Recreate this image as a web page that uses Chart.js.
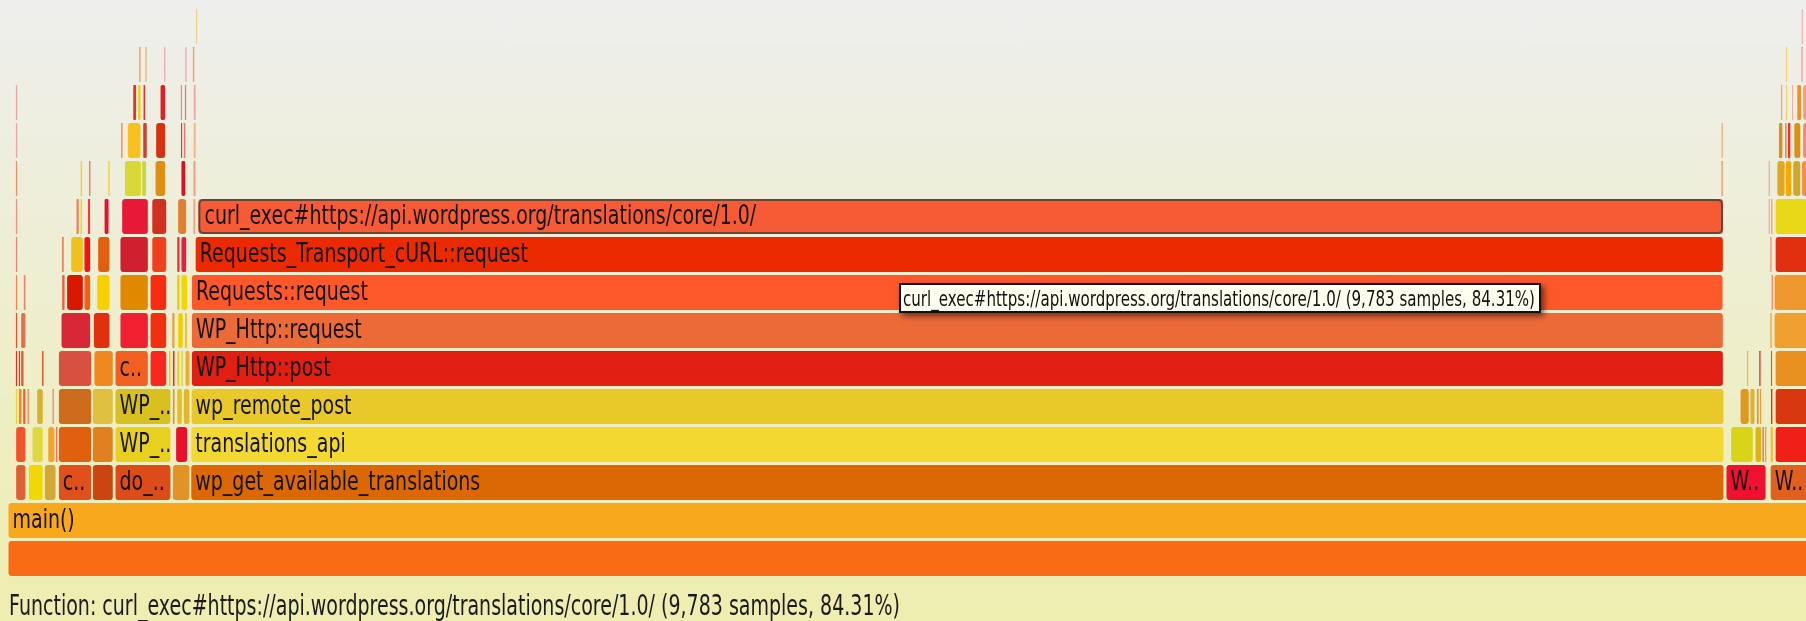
<!DOCTYPE html>
<html><head><meta charset="utf-8">
<script src="https://cdn.jsdelivr.net/npm/chart.js@4/dist/chart.umd.min.js"></script>
<style>
html,body{margin:0;padding:0;width:1806px;height:621px;overflow:hidden;background:linear-gradient(#eeeeee,#eeeeb0);}
canvas{display:block}
</style></head><body>
<canvas id="c" width="1806" height="621"></canvas>
<script>
// ---- data: each frame = [startSample, endSample, functionName], one array per stack depth ----
const TOTAL_SAMPLES = 11604;
const HOVERED = 'curl_exec#https://api.wordpress.org/translations/core/1.0/';

const L0 = [[0,11604,'']];
const L1 = [[0,11604,'main()']];
const L2 = [[49,115,''],[130,226,''],[233,308,''],[323,537,'c..'],[541,675,''],[686,1045,'do_..'],[1054,1167,''],
  [1172,11004,'wp_get_available_translations'],[11017,11274,'W..'],[11300,11604,'W..']];
const L3 = [[49,115,''],[154,226,''],[255,301,''],[306,320,''],[323,537,''],[541,675,''],[686,1045,'WP_..'],[1075,1152,''],
  [1172,11004,'translations_api'],[11047,11192,''],[11203,11246,''],[11248,11262,''],[11264,11279,''],[11300,11321,''],[11332,11604,'']];
const L4 = [[47,62,''],[66,90,''],[94,115,''],[122,138,''],[184,226,''],[282,298,''],[323,537,''],[541,675,''],[686,1045,'WP_..'],
  [1054,1071,''],[1082,1118,''],[1124,1167,''],[1174,11004,'wp_remote_post'],[11107,11166,''],[11171,11203,''],[11212,11229,''],
  [11231,11246,''],[11302,11318,''],[11332,11604,'']];
const L5 = [[47,62,''],[66,81,''],[81,103,''],[214,231,''],[323,537,''],[551,675,''],[686,900,'c..'],[911,1018,''],[1030,1045,''],
  [1054,1071,''],[1082,1103,''],[1109,1124,''],[1135,1167,''],[1176,11000,'WP_Http::post'],[11148,11163,''],[11227,11242,''],
  [11302,11316,''],[11332,11604,'']];
const L6 = [[47,62,''],[81,115,''],[340,530,''],[547,654,''],[718,900,''],[911,1018,''],[1050,1071,''],[1088,1124,''],[1131,1152,''],
  [1176,11000,'WP_Http::request'],[11298,11314,''],[11325,11604,'']];
const L7 = [[47,62,''],[98,115,''],[344,366,''],[376,483,''],[487,530,''],[569,654,''],[718,900,''],[911,1018,''],[1082,1103,''],
  [1109,1152,''],[1176,10998,'Requests::request'],[11306,11321,''],[11325,11604,'']];
const L8 = [[47,62,''],[344,360,''],[402,483,''],[487,530,''],[575,654,''],[718,900,''],[922,1018,''],[1082,1103,''],[1109,1146,''],
  [1200,11000,'Requests_Transport_cURL::request'],[11298,11312,''],[11332,11604,'']];
const L9 = [[47,62,''],[436,457,''],[462,479,''],[509,530,''],[616,648,''],[729,900,''],[922,1018,''],[1088,1146,''],[1186,1204,''],
  [1218,11001,HOVERED],[11287,11301,''],[11304,11318,''],[11332,11604,'']];
const L10 = [[47,62,''],[462,479,''],[516,532,''],[640,655,''],[746,857,''],[857,889,''],[943,1011,''],[1109,1140,''],[1186,1206,''],
  [10984,11000,''],[11287,11301,''],[11343,11396,''],[11396,11439,''],[11445,11497,''],[11501,11604,'']];
const L11 = [[47,62,''],[722,738,''],[765,853,''],[864,893,''],[947,1011,''],[1106,1120,''],[1124,1140,''],[1188,1206,''],
  [10985,11000,''],[11353,11382,''],[11394,11408,''],[11411,11433,''],[11452,11497,''],[11508,11604,'']];
const L12 = [[47,62,''],[800,825,''],[832,853,''],[866,883,''],[975,1011,''],[1105,1119,''],[1131,1146,''],[1188,1206,''],
  [11366,11381,''],[11398,11412,''],[11437,11451,''],[11471,11501,''],[11508,11604,'']];
const L13 = [[838,853,''],[877,893,''],[998,1012,''],[1134,1148,''],[1182,1198,''],[11398,11411,''],[11497,11512,'']];
const L14 = [[1202,1216,''],[11499,11513,'']];

// ---- styles: fill colour of every frame, same order as the data arrays ----
const C0 = ['#f96b15'];
const C1 = ['#f7a81d'];
const C2 = ['#dc6034','#f0d808','#d4a838','#e0501c','#cc4410','#dc4c18','#e09428','#dc6705','#f01030','#e06020'];
const C3 = ['#f05428','#e0d840','#f0a428','#f05050','#e06010','#e08020','#e8d020','#e8102c','#f2d831','#d8d418','#e0b410','#f05040','#f09070','#f0c030','#f02018'];
const C4 = ['#f0d040','#f08c20','#f06030','#f09060','#d8b030','#f09090','#cc6c1c','#e0c040','#d8c020','#e09030','#e8c020','#e0b830','#e9c829','#e09820','#e0b030','#e09030','#e0a040','#d04020','#d83810'];
const C5 = ['#e83020','#e83020','#f05a30','#e06030','#d85040','#f08820','#f06020','#f82820','#f0c020','#e83020','#f0d020','#f0c828','#e8b030','#e01e12','#f0c020','#e83030','#e85030','#e89020'];
const C6 = ['#e85030','#e07050','#d82838','#e03010','#f02030','#f03010','#e8a040','#f0d000','#f0c040','#ec6a38','#e8b040','#f0a030'];
const C7 = ['#f08050','#f08070','#f06040','#d81800','#f06010','#f8d000','#e08800','#f82c10','#f0c800','#f0d800','#fd582a','#f08080','#f09830'];
const C8 = ['#f08070','#f07040','#f0c020','#f81010','#e06010','#d02030','#f04020','#e83030','#e82040','#ec2a02','#f08080','#e03010'];
const C9 = ['#f09080','#f08060','#f0d020','#e84040','#e81030','#e81838','#d03020','#e08030','#f0a080','#f65b35','#f0a0a0','#f09080','#e8d818'];
const C10 = ['#f09060','#f0d040','#f08070','#f0d040','#d8d838','#c8d840','#e09010','#e01020','#f0a080','#f0a070','#f0a0a0','#e0a820','#f8a800','#d0a828','#f09050'];
const C11 = ['#f0a0a0','#f09060','#f8c020','#d04030','#d83010','#e83030','#f07060','#f0b080','#f0b080','#d89020','#f06030','#f03020','#e09010','#f09060'];
const C12 = ['#f0a0a0','#e83020','#f0d000','#e03030','#e02020','#f08080','#f07070','#f0a0a0','#f0a0a0','#f0d060','#f0b0a0','#f09020','#f0a080'];
const C13 = ['#f0a040','#e8c080','#f0a0a0','#f0a0a0','#f0a060','#f0d060','#f0a0a0'];
const C14 = ['#f0d080','#f0b0b0'];

const LEVELS = [L0,L1,L2,L3,L4,L5,L6,L7,L8,L9,L10,L11,L12,L13,L14];
const COLORS = [C0,C1,C2,C3,C4,C5,C6,C7,C8,C9,C10,C11,C12,C13,C14];

const frames = [], fills = [];
LEVELS.forEach((lv, d) => lv.forEach((f, i) => {
  frames.push({x: [f[0], f[1]], y: d, name: f[2]});
  fills.push(COLORS[d][i]);
}));
const hoverIndex = frames.findIndex(f => f.name === HOVERED);
const hoverFrame = frames[hoverIndex];
const hoverSamples = hoverFrame.x[1] - hoverFrame.x[0];
const infoText = HOVERED + ' (' + hoverSamples.toLocaleString('en-US') + ' samples, ' +
  (hoverSamples / TOTAL_SAMPLES * 100).toFixed(2) + '%)';

function scaledText(ctx, text, x, y, px, targetW, weight) {
  ctx.font = (weight || '') + ' ' + px + 'px "DejaVu Sans"';
  const sx = targetW / ctx.measureText(text).width;
  ctx.save(); ctx.translate(x, y); ctx.scale(sx, 1); ctx.fillText(text, 0, 0); ctx.restore();
}

const flamePlugin = {
  id: 'flame',
  afterDatasetsDraw(chart) {
    const ctx = chart.ctx, meta = chart.getDatasetMeta(0), a = chart.chartArea;
    ctx.save();
    ctx.beginPath(); ctx.rect(a.left, a.top, a.right - a.left, a.bottom - a.top); ctx.clip();
    // outline of the hovered frame
    const he = meta.data[hoverIndex].getProps(['x','y','base','height'], true);
    const hl = Math.min(he.x, he.base) + 0.5, hr = Math.max(he.x, he.base) - 0.5;
    ctx.strokeStyle = '#6b4334'; ctx.lineWidth = 2;
    ctx.beginPath(); ctx.roundRect(hl + 1, he.y - he.height / 2 + 2, hr - hl - 2, he.height - 4, 4); ctx.stroke();
    // labels
    ctx.font = '26px "DejaVu Sans"';
    const sx = 172 / ctx.measureText('Requests::request').width;
    ctx.fillStyle = '#141414'; ctx.textBaseline = 'alphabetic'; ctx.textAlign = 'left';
    meta.data.forEach((el, i) => {
      const name = frames[i].name; if (!name) return;
      const p = el.getProps(['x','y','base'], true);
      const left = Math.min(p.x, p.base), right = Math.max(p.x, p.base);
      const w = ctx.measureText(name).width * sx;
      if (w > right - left) return;
      const off = i === hoverIndex ? 6.5 : 4.5;
      ctx.save(); ctx.translate(left + off, p.y + 7.5); ctx.scale(sx, 1); ctx.fillText(name, 0, 0); ctx.restore();
    });
    ctx.restore();
  },
  afterDraw(chart) {
    const ctx = chart.ctx;
    // hover info box
    const bx = 899, by = 283, bw = 642, bh = 30;
    ctx.save();
    ctx.shadowColor = 'rgba(0,0,0,0.55)'; ctx.shadowBlur = 6; ctx.shadowOffsetX = 3; ctx.shadowOffsetY = 3;
    ctx.fillStyle = '#111'; ctx.fillRect(bx, by, bw, bh);
    ctx.restore();
    ctx.save();
    ctx.fillStyle = '#fffff0'; ctx.fillRect(bx + 2, by + 2, bw - 4, bh - 4);
    ctx.fillStyle = '#111'; ctx.textBaseline = 'alphabetic';
    scaledText(ctx, infoText, bx + 4, by + 22.5, 21, 632);
    // status line
    ctx.fillStyle = '#1a1a1a';
    scaledText(ctx, 'Function: ' + infoText, 9, 615, 27.5, 891);
    ctx.restore();
  }
};

new Chart(document.getElementById('c'), {
  type: 'bar',
  data: { datasets: [{
    data: frames,
    backgroundColor: fills,
    borderColor: 'rgba(0,0,0,0)',
    borderWidth: {left: 0.5, right: 0.5, top: 1, bottom: 1},
    borderSkipped: false,
    borderRadius: 4,
    barThickness: 37,
    inflateAmount: 0
  }]},
  options: {
    indexAxis: 'y',
    responsive: false,
    animation: false,
    events: [],
    layout: { padding: { left: 8, right: 0, top: 7.5, bottom: 43.5 } },
    scales: {
      x: { type: 'linear', min: 0, max: 11530, display: false, offset: false },
      y: { type: 'linear', min: -0.5, max: 14.5, display: false, offset: false }
    },
    plugins: { legend: { display: false }, tooltip: { enabled: false } }
  },
  plugins: [flamePlugin]
});
</script></body></html>
